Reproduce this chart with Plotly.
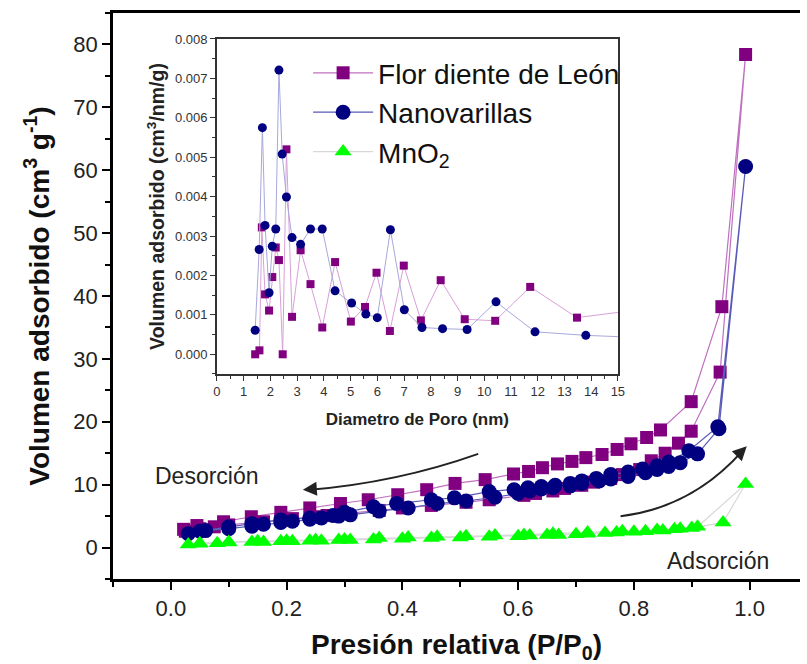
import plotly.graph_objects as go

# ---------------- main isotherm data ----------------
flor_ads_x = [0.025, 0.05, 0.075, 0.10, 0.14, 0.16, 0.19, 0.21, 0.25, 0.27, 0.30, 0.36, 0.40, 0.45, 0.51,
              0.55, 0.61, 0.63, 0.66, 0.68, 0.71, 0.73, 0.76, 0.78, 0.81, 0.83, 0.854, 0.877, 0.899, 0.949, 0.993]
flor_ads_y = [2.6, 3.0, 3.3, 3.6, 3.9, 4.1, 4.4, 4.6, 4.9, 5.1, 5.4, 5.9, 6.3, 6.7, 7.2,
              7.6, 8.3, 8.6, 9.0, 9.4, 9.9, 10.4, 11.0, 11.6, 12.4, 13.8, 15.0, 16.6, 18.5, 27.9, 78.4]
flor_des_x = [0.993, 0.952, 0.899, 0.846, 0.822, 0.795, 0.771, 0.745, 0.717, 0.693, 0.668, 0.642, 0.618,
              0.592, 0.543, 0.491, 0.442, 0.392, 0.341, 0.293, 0.240, 0.190, 0.139, 0.091, 0.045, 0.022]
flor_des_y = [78.4, 38.3, 23.2, 18.7, 17.5, 16.5, 15.6, 14.8, 14.3, 13.7, 13.3, 12.7, 12.1,
              11.7, 10.8, 10.2, 9.2, 8.4, 7.6, 7.0, 6.3, 5.6, 4.9, 4.1, 3.5, 2.9]

nano_ads_x = [0.03, 0.06, 0.10, 0.14, 0.16, 0.19, 0.21, 0.24, 0.26, 0.29, 0.31, 0.36, 0.41, 0.46, 0.51,
              0.56, 0.60, 0.62, 0.64, 0.66, 0.69, 0.71, 0.74, 0.76, 0.79, 0.82, 0.84, 0.86, 0.88, 0.91, 0.947, 0.993]
nano_ads_y = [2.2, 2.7, 3.0, 3.4, 3.7, 4.0, 4.2, 4.5, 4.7, 5.0, 5.2, 5.8, 6.3, 7.0, 7.4,
              8.0, 8.6, 9.0, 9.3, 9.5, 9.8, 10.2, 10.6, 10.9, 11.3, 11.9, 12.4, 12.9, 13.5, 14.9, 18.9, 60.6]
nano_des_x = [0.993, 0.945, 0.895, 0.86, 0.84, 0.815, 0.79, 0.76, 0.735, 0.71, 0.69, 0.664, 0.64, 0.617,
              0.593, 0.55, 0.49, 0.45, 0.39, 0.35, 0.30, 0.28, 0.24, 0.19, 0.14, 0.10, 0.05]
nano_des_y = [60.6, 19.2, 15.4, 13.6, 13.0, 12.5, 12.0, 11.6, 11.0, 10.6, 10.2, 9.9, 9.7, 9.5,
              9.2, 8.9, 7.9, 7.6, 7.0, 6.5, 5.6, 5.1, 4.7, 4.4, 3.8, 3.3, 2.6]

mno2_ads_x = [0.03, 0.05, 0.08, 0.10, 0.14, 0.16, 0.19, 0.21, 0.24, 0.26, 0.29, 0.31, 0.35, 0.40, 0.45, 0.50,
              0.55, 0.60, 0.62, 0.65, 0.67, 0.70, 0.72, 0.75, 0.77, 0.80, 0.82, 0.85, 0.87, 0.90, 0.954, 0.993]
mno2_ads_y = [0.5, 0.6, 0.7, 0.8, 0.9, 0.9, 1.0, 1.0, 1.1, 1.1, 1.2, 1.2, 1.3, 1.4, 1.5, 1.6,
              1.7, 1.8, 1.9, 2.0, 2.0, 2.1, 2.2, 2.3, 2.4, 2.5, 2.6, 2.7, 2.9, 3.1, 4.0, 10.1]
mno2_des_x = [0.993, 0.91, 0.88, 0.84, 0.78, 0.72, 0.66, 0.61, 0.56, 0.51, 0.46, 0.41, 0.36, 0.30,
              0.25, 0.20, 0.15, 0.10, 0.05]
mno2_des_y = [10.1, 3.3, 3.0, 2.8, 2.6, 2.4, 2.2, 2.0, 1.9, 1.8, 1.7, 1.6, 1.5, 1.3,
              1.2, 1.1, 1.0, 0.9, 0.7]

# ---------------- inset pore size distribution ----------------
flor_pore_x = [1.43, 1.59, 1.68, 1.80, 1.95, 2.07, 2.20, 2.32, 2.46, 2.60, 2.81, 3.13, 3.50, 3.94, 4.42,
               5.01, 5.54, 5.97, 6.47, 6.99, 7.63, 8.37, 9.27, 10.41, 11.72, 13.47, 16.0]
flor_pore_y = [0.0, 0.0001, 0.00322, 0.00152, 0.00111, 0.00196, 0.00271, 0.00239, 0.0, 0.0052, 0.00095,
               0.00264, 0.00178, 0.00068, 0.00234, 0.00083, 0.0012, 0.00207, 0.00059, 0.00225, 0.00086,
               0.00188, 0.00089, 0.00085, 0.00171, 0.00093, 0.00115]
nano_pore_x = [1.43, 1.58, 1.70, 1.80, 1.95, 2.07, 2.20, 2.32, 2.44, 2.60, 2.81, 3.13, 3.50, 3.94, 4.42,
               5.04, 5.57, 6.00, 6.49, 7.01, 7.67, 8.44, 9.36, 10.44, 11.90, 13.80, 16.0]
nano_pore_y = [0.00061, 0.00266, 0.00575, 0.00327, 0.00156, 0.00274, 0.00318, 0.00721, 0.00508, 0.00399,
               0.00296, 0.00279, 0.00318, 0.00318, 0.00161, 0.0013, 0.00102, 0.00093, 0.00316, 0.00113,
               0.00068, 0.00065, 0.00063, 0.00133, 0.00057, 0.00048, 0.00042]

PURPLE = "#800080"
NAVY = "#000080"
GREEN = "#00ff00"
FONT = "Liberation Sans, Arial, sans-serif"

fig = go.Figure()

fig.add_trace(go.Scatter(
    x=flor_ads_x + flor_des_x[1:], y=flor_ads_y + flor_des_y[1:], mode="lines+markers",
    name="Flor diente de León", line=dict(color="#c070c0", width=1.2),
    marker=dict(symbol="square", size=13, color=PURPLE), cliponaxis=False))
fig.add_trace(go.Scatter(
    x=nano_ads_x + nano_des_x[1:], y=nano_ads_y + nano_des_y[1:], mode="lines+markers",
    name="Nanovarillas", line=dict(color="#5a5ab8", width=1.2),
    marker=dict(symbol="circle", size=15, color=NAVY), cliponaxis=False))
fig.add_trace(go.Scatter(
    x=mno2_ads_x + mno2_des_x[1:], y=mno2_ads_y + mno2_des_y[1:], mode="lines+markers",
    name="MnO<sub>2</sub>", line=dict(color="#d8d8d8", width=1.2),
    marker=dict(symbol="triangle-up", size=15, color=GREEN), cliponaxis=False))

fig.add_trace(go.Scatter(
    x=flor_pore_x, y=flor_pore_y, mode="lines+markers", xaxis="x2", yaxis="y2", showlegend=False,
    line=dict(color="#d8a0d8", width=1), marker=dict(symbol="square", size=8, color=PURPLE)))
fig.add_trace(go.Scatter(
    x=nano_pore_x, y=nano_pore_y, mode="lines+markers", xaxis="x2", yaxis="y2", showlegend=False,
    line=dict(color="#a8a8dc", width=1), marker=dict(symbol="circle", size=9, color=NAVY)))

# curved arrows (annotation decorations)
fig.add_shape(type="path", xref="x", yref="y",
              path="M 0.531,14.9 Q 0.390,10.3 0.236,9.15", line=dict(color="#222", width=2))
fig.add_shape(type="path", xref="x", yref="y",
              path="M 0.777,4.98 Q 0.901,6.35 0.988,15.4", line=dict(color="#222", width=2))

fig.add_annotation(x=0.228, y=9.2, xref="x", yref="y", ax=14, ay=-1, showarrow=True,
                   arrowhead=2, arrowsize=1.4, arrowwidth=2, arrowcolor="#222", text=" ")
fig.add_annotation(x=0.995, y=16.1, xref="x", yref="y", ax=-10, ay=10, showarrow=True,
                   arrowhead=2, arrowsize=1.4, arrowwidth=2, arrowcolor="#222", text=" ")

fig.add_annotation(x=0.062, y=11.4, xref="x", yref="y", text="Desorción", showarrow=False,
                   font=dict(family=FONT, size=23, color="#222"))
fig.add_annotation(x=0.945, y=-2.1, xref="x", yref="y", text="Adsorción", showarrow=False,
                   font=dict(family=FONT, size=23, color="#222"))

axis_common = dict(showgrid=False, zeroline=False, ticks="outside")

fig.update_layout(
    width=807, height=664,
    margin=dict(l=113, r=0, t=13, b=85),
    paper_bgcolor="white", plot_bgcolor="rgba(0,0,0,0)",
    font=dict(family=FONT, color="#222"),
    xaxis=dict(**axis_common, range=[-0.1, 1.087], dtick=0.2, tick0=0, tickformat=".1f",
               linewidth=2.5, tickwidth=2, ticklen=8, mirror=True, linecolor="black", tickcolor="black",
               minor=dict(dtick=0.1, tick0=0, ticks="outside", ticklen=5, tickwidth=2, tickcolor="black"),
               tickfont=dict(size=22, color="#222"),
               title=dict(text="<b>Presión relativa (P/P<sub>0</sub>)</b>", font=dict(size=28, color="#111"),
                          standoff=15)),
    yaxis=dict(**axis_common, range=[-5, 85], dtick=10, tick0=0,
               linewidth=2.5, tickwidth=2, ticklen=8, linecolor="black", tickcolor="black",
               minor=dict(dtick=5, tick0=0, ticks="outside", ticklen=5, tickwidth=2, tickcolor="black"),
               tickfont=dict(size=22, color="#222"),
               title=dict(text="<b>Volumen adsorbido (cm<sup>3</sup> g<sup>-1</sup>)</b>",
                          font=dict(size=28, color="#111"), standoff=16)),
    xaxis2=dict(**axis_common, domain=[0.1513, 0.7349], anchor="y2", range=[0, 15], dtick=1,
                linewidth=1.5, tickwidth=1.2, ticklen=5, mirror=True, linecolor="#333", tickcolor="#333",
                minor=dict(dtick=0.5, ticks="outside", ticklen=3, tickwidth=1, tickcolor="#333"),
                tickfont=dict(size=13, color="#333"),
                title=dict(text="<b>Diametro de Poro (nm)</b>", font=dict(size=17, color="#222"), standoff=15)),
    yaxis2=dict(**axis_common, domain=[0.3622, 0.9541], anchor="x2", range=[-0.0005, 0.008],
                dtick=0.001, tick0=0, tickformat=".3f",
                linewidth=1.5, tickwidth=1.2, ticklen=5, mirror=True, linecolor="#333", tickcolor="#333",
                minor=dict(dtick=0.0005, tick0=0, ticks="outside", ticklen=3, tickwidth=1, tickcolor="#333"),
                tickfont=dict(size=13, color="#333"),
                title=dict(text="<b>Volumen adsorbido (cm<sup>3</sup>/nm/g)</b>",
                           font=dict(size=19.5, color="#222"), standoff=5)),
    legend=dict(x=0.284, y=0.938, xanchor="left", yanchor="top", bgcolor="rgba(0,0,0,0)",
                font=dict(family=FONT, size=28, color="#111"), itemwidth=60, tracegroupgap=0),
    showlegend=True,
)

fig.write_html("out.html")
